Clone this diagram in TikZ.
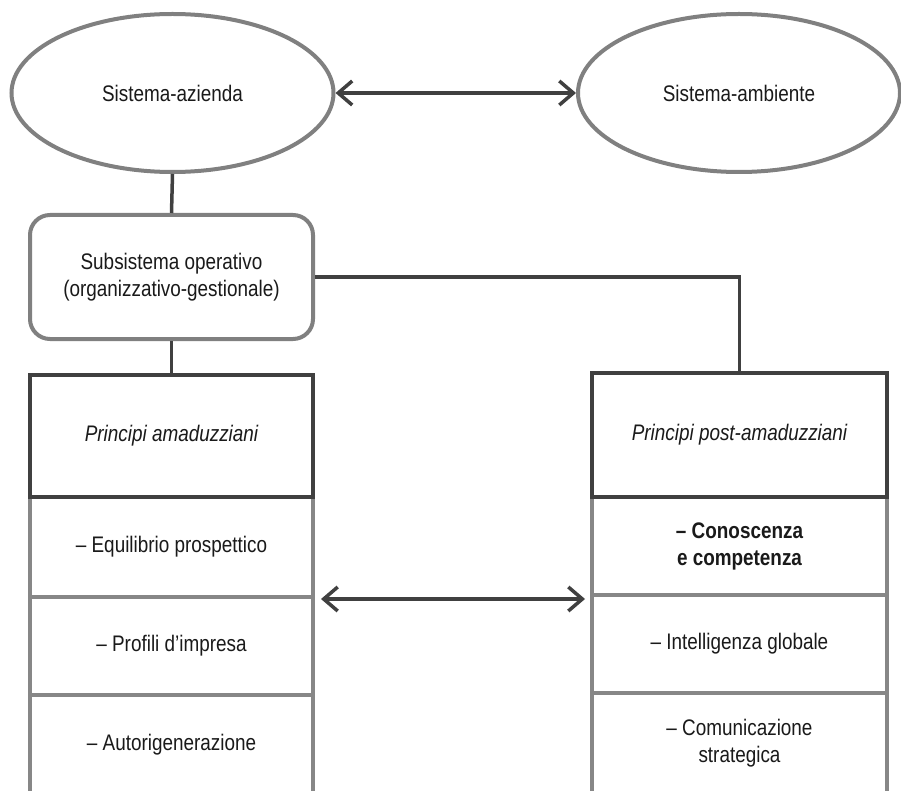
\documentclass[tikz,border=0pt]{standalone}
\usepackage{fontspec}
\setmainfont{Liberation Sans}[FakeStretch=0.84]
\usetikzlibrary{shapes.geometric,arrows.meta}
\definecolor{ellgray}{HTML}{808080}
\definecolor{dk}{HTML}{404040}
\definecolor{cellgray}{HTML}{878787}
\definecolor{txt}{HTML}{1A1A1A}
\begin{document}
\begin{tikzpicture}[x=1pt,y=-1pt,
  lbl/.style={font=\fontsize{22.5}{27}\selectfont, text=txt, align=center, inner sep=0pt},
  ell/.style={lbl, ellipse, draw=ellgray, line width=4pt, fill=white, minimum width=322pt, minimum height=158pt},
  opbox/.style={lbl, rectangle, rounded corners=20pt, draw=ellgray, line width=4pt, fill=white, minimum width=283pt, minimum height=124pt},
  cellL/.style={lbl, rectangle, draw=cellgray, line width=4pt, minimum width=283pt},
  cellR/.style={lbl, rectangle, draw=cellgray, line width=4pt, minimum width=295pt},
  headL/.style={lbl, rectangle, draw=dk, line width=4pt, minimum width=283pt, font=\fontsize{22.5}{27}\selectfont\itshape},
  headR/.style={lbl, rectangle, draw=dk, line width=4pt, minimum width=295pt, font=\fontsize{22.5}{27}\selectfont\itshape},
  conn/.style={draw=dk, line width=3.5pt},
  arr/.style={conn, {Straight Barb[length=14pt,width=24pt]}-{Straight Barb[length=14pt,width=24pt]}}
]
\useasboundingbox (0,0) rectangle (901,791);
\clip (0,0) rectangle (901,791);
\fill[white] (0,0) rectangle (901,791);

% ellipses
\node[ell] (az) at (172.5,93) {Sistema-azienda};
\node[ell] (am) at (739,93) {Sistema-ambiente};

% operative subsystem
\node[opbox] (op) at (171.5,277) {Subsistema operativo\\(organizzativo-gestionale)};

% left column
\node[cellL, minimum height=100pt] (lc1) at (171.5,547) {– Equilibrio prospettico};
\node[cellL, minimum height=98pt] (lc2) at (171.5,646) {– Profili d’impresa};
\node[cellL, minimum height=100pt] (lc3) at (171.5,745) {– Autorigenerazione};
\node[headL, minimum height=122pt] (lh) at (171.5,436) {Principi amaduzziani};

% right column
\node[cellR, minimum height=98pt] (rc1) at (739.5,546) {\bfseries – Conoscenza\\\bfseries e competenza};
\node[cellR, minimum height=98pt] (rc2) at (739.5,644) {– Intelligenza globale};
\node[cellR, minimum height=100pt] (rc3) at (739.5,743) {– Comunicazione\\strategica};
\node[headR, minimum height=124pt] (rh) at (739.5,435) {Principi post-amaduzziani};

% connectors
\draw[arr] (az.east) -- (am.west);
\draw[conn] (az.south) -- (op.north);
\draw[conn] (op.south) -- (lh.north);
\draw[conn] (op.east) -| (rh.north);
\coordinate (la) at (lc1.south east);
\coordinate (ra) at (lc1.south east -| rc1.west);
\draw[arr] ([xshift=6pt]la) -- ([xshift=-5pt]ra);
\end{tikzpicture}
\end{document}
